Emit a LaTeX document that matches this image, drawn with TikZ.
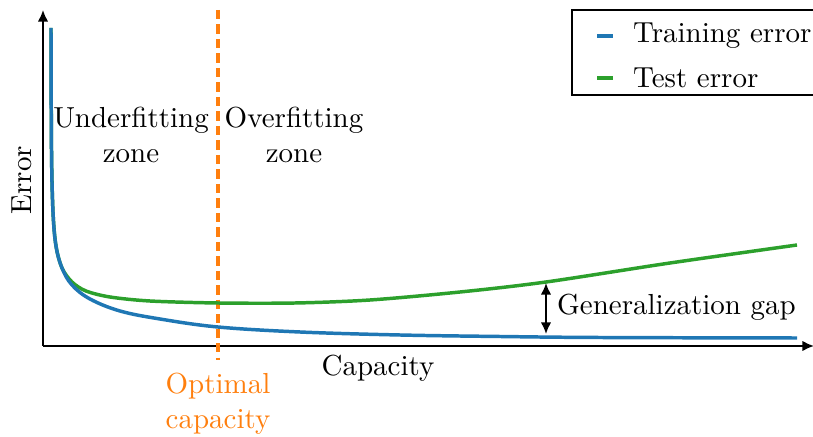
\documentclass[tikz,border=0pt]{standalone}
\usepackage{tikz}
\usetikzlibrary{arrows.meta}
\usetikzlibrary{calc}

\definecolor{trainblue}{HTML}{1F77B4}
\definecolor{optorange}{HTML}{FF7F0E}
\definecolor{testgreen}{HTML}{2CA02C}

\begin{document}
\begin{tikzpicture}[x=0.01213cm,y=-0.01213cm,>={Latex[length=4pt,width=3.6pt]},
  axis line/.style={->,line width=0.6pt},
  train line/.style={trainblue,line width=1.2pt},
  test line/.style={testgreen,line width=1.2pt},
  opt line/.style={optorange,line width=1.3pt,dash pattern=on 3.2pt off 1.8pt},
  zone label/.style={align=center,font=\normalsize}]

	\useasboundingbox (0,0) rectangle (813,437);
	\clip (0,0) rectangle (813,437);

	% axes
	\coordinate (O) at (43,346);
	\coordinate (ytop) at (43,10);
	\coordinate (xend) at (814,346);
	\draw[axis line] (O) -- (ytop);
	\draw[axis line] (O) -- (xend);

	\node (error) [rotate=90] at (22,180) {Error};
	\node (capacity) at (378,368) {Capacity};

	% optimal capacity
	\coordinate (opttop) at (218,10);
	\coordinate (optbot) at (218,360);
	\draw[opt line] (opttop) -- (optbot);
	\node (optimal) [text=optorange,align=center] at (218,404) {Optimal\\capacity};

	\node[zone label] (under) at (131,135) {Underfitting\\zone};
	\node[zone label] (over) at (294,135) {Overfitting\\zone};

	% curves
	\draw[test line] plot[smooth,tension=0.5] coordinates {(51,28) (51.5,150) (53,212) (56,246) (62,268) (72,282) (86,291) (110,297) (150,301) (218,303) (295,303) (370,300) (460,292) (546,282) (670,263) (797,245)};
	\draw[train line] plot[smooth,tension=0.6] coordinates {(51,28) (51.5,150) (53,212) (56,246) (62,268) (72,285) (90,299) (120,311) (160,319) (218,327) (300,332) (400,335) (500,336.5) (600,337.5) (797,338)};

	% generalization gap
	\coordinate (gaptop) at (546,283);
	\coordinate (gapbot) at (546,334);
	\draw[<->,line width=0.6pt] (gaptop) -- (gapbot);
	\node (gap) [anchor=west] at (547,307) {Generalization gap};

	% legend
	\draw[line width=0.6pt,fill=white] (572,10) rectangle (830,95);
	\coordinate (trainleg) at (597,36);
	\coordinate (testleg) at (597,78);
	\draw[train line] (trainleg) -- ++(16,0);
	\draw[test line] (testleg) -- ++(16,0);
	\node (trainlab) [anchor=west] at (623,36) {Training error};
	\node (testlab) [anchor=west] at (623,78) {Test error};

\end{tikzpicture}
\end{document}
